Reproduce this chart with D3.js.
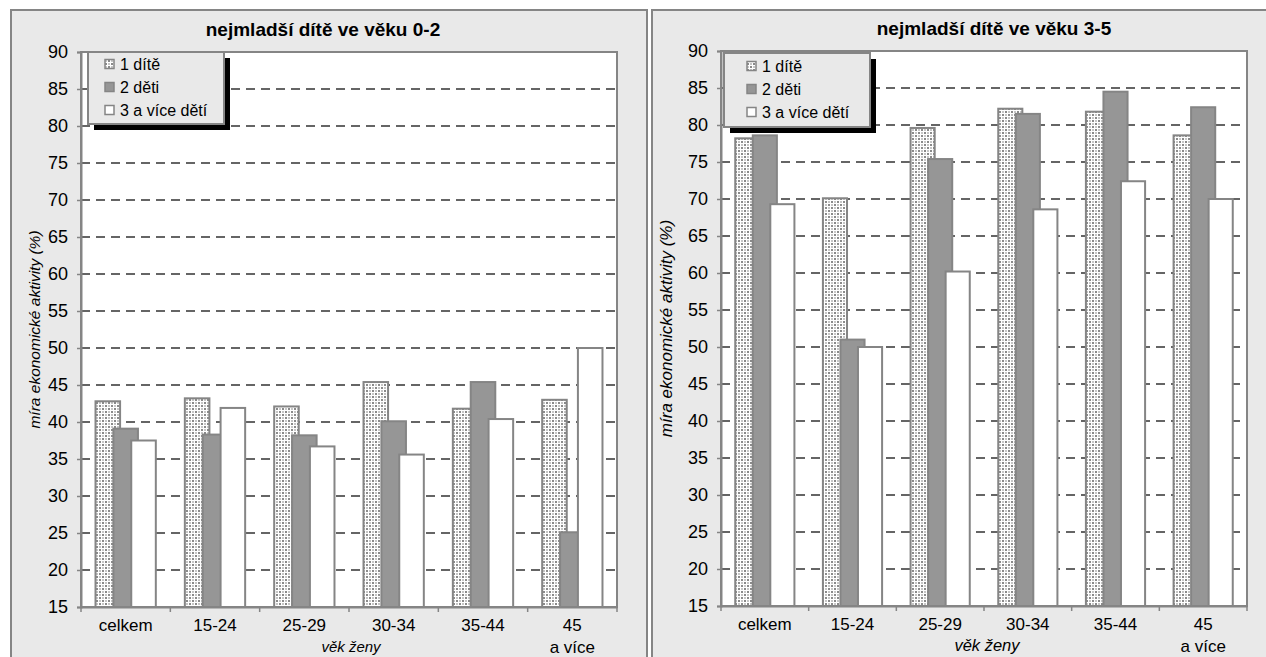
<!DOCTYPE html>
<html><head><meta charset="utf-8">
<script src="https://cdn.jsdelivr.net/npm/d3@7"></script>
<style>
body{margin:0;background:#fff;}
svg{display:block;}
text{font-family:"Liberation Sans",Arial,Helvetica,sans-serif;fill:#000;}
</style>
</head><body>
<svg id="chart" width="1266" height="657"></svg>
<script>
// ---- data ----
const categories = ["celkem", "15-24", "25-29", "30-34", "35-44", "45 a více"];
const categoryLines = [["celkem"], ["15-24"], ["25-29"], ["30-34"], ["35-44"], ["45", "a více"]];
const seriesNames = ["1 dítě", "2 děti", "3 a více dětí"];
const yTicks = [15, 20, 25, 30, 35, 40, 45, 50, 55, 60, 65, 70, 75, 80, 85, 90];

// nejmladší dítě ve věku 0-2
const age02_1child = [42.8, 43.2, 42.1, 45.4, 41.8, 43.0];
const age02_2children = [39.1, 38.3, 38.2, 40.1, 45.4, 25.1];
const age02_3plus = [37.5, 41.9, 36.7, 35.6, 40.4, 50.0];

// nejmladší dítě ve věku 3-5
const age35_1child = [78.2, 70.1, 79.6, 82.2, 81.8, 78.6];
const age35_2children = [78.6, 51.0, 75.4, 81.5, 84.5, 82.4];
const age35_3plus = [69.3, 50.0, 60.2, 68.6, 72.4, 70.0];

const titles = ["nejmladší dítě ve věku 0-2", "nejmladší dítě ve věku 3-5"];
const yTitle = "míra ekonomické aktivity (%)";
const xTitle = "věk ženy";

// ---- drawing ----
const svg = d3.select("#chart");
const PANEL_BG = "#e9e9e9";
const GRAY = "#858585";

const defs = svg.append("defs");
const pat = defs.append("pattern").attr("id", "dots")
  .attr("patternUnits", "userSpaceOnUse").attr("width", 6).attr("height", 6);
pat.append("rect").attr("width", 6).attr("height", 6).attr("fill", "#ffffff");
[[0, 0, "#8a8a8a"], [3, 3, "#8a8a8a"], [3, 0, "#c6c6c6"], [0, 3, "#c6c6c6"]].forEach(([px, py, c]) =>
  pat.append("rect").attr("x", px).attr("y", py).attr("width", 2).attr("height", 2).attr("fill", c));

const fills = ["url(#dots)", "#969696", "#ffffff"];

const panels = [
  {
    title: titles[0], data: [age02_1child, age02_2children, age02_3plus],
    box: {x: 11, y: 10, w: 636, h: 670},
    plot: {l: 81, r: 617, t: 52, b: 607},
    titleX: 323, titleY: 36,
    yTitleX: 34, yTitleSize: 15.5, xTitleX: 351, xTitleSize: 15,
    legend: {x: 88, y: 52, w: 136, h: 72, sw: 17, tx: 32, rows: [12, 35, 58]}
  },
  {
    title: titles[1], data: [age35_1child, age35_2children, age35_3plus],
    box: {x: 652, y: 10, w: 640, h: 670},
    plot: {l: 721, r: 1247, t: 51, b: 606},
    titleX: 994, titleY: 35,
    yTitleX: 666, yTitleSize: 17, xTitleX: 987, xTitleSize: 16.5,
    legend: {x: 724, y: 53, w: 146, h: 74, sw: 23, tx: 38, rows: [13, 36, 59]}
  }
];

panels.forEach(p => {
  const g = svg.append("g");
  // panel background
  g.append("rect").attr("x", p.box.x).attr("y", p.box.y).attr("width", p.box.w).attr("height", p.box.h)
    .attr("fill", PANEL_BG).attr("stroke", GRAY).attr("stroke-width", 2);

  // title
  g.append("text").attr("x", p.titleX).attr("y", p.titleY).attr("text-anchor", "middle")
    .attr("font-size", 19).attr("font-weight", "bold").text(p.title);

  const x0 = d3.scaleBand().domain(categories).range([p.plot.l, p.plot.r]).paddingInner(0).paddingOuter(0);
  const y = d3.scaleLinear().domain([15, 90]).range([p.plot.b, p.plot.t]);
  const B = x0.bandwidth();
  const bw = B * 0.275, step = B * 0.2;
  const xs = d3.scalePoint().domain(seriesNames).range([-step, step]);

  // plot background
  g.append("rect").attr("x", p.plot.l).attr("y", p.plot.t).attr("width", p.plot.r - p.plot.l)
    .attr("height", p.plot.b - p.plot.t).attr("fill", "#fff");

  // gridlines
  g.append("g").selectAll("line").data(yTicks.filter(t => t > 15 && t < 90)).join("line")
    .attr("x1", p.plot.l).attr("x2", p.plot.r)
    .attr("y1", d => y(d)).attr("y2", d => y(d))
    .attr("stroke", "#333").attr("stroke-width", 1.3).attr("stroke-dasharray", "9,6");

  // bars
  seriesNames.forEach((s, si) => {
    g.append("g").selectAll("rect").data(categories.map((c, i) => ({c, v: p.data[si][i]}))).join("rect")
      .attr("x", d => x0(d.c) + B / 2 + xs(s) - bw / 2)
      .attr("y", d => y(d.v))
      .attr("width", bw)
      .attr("height", d => y(15) - y(d.v))
      .attr("fill", fills[si]).attr("stroke", GRAY).attr("stroke-width", 2);
  });

  // plot border
  g.append("rect").attr("x", p.plot.l).attr("y", p.plot.t).attr("width", p.plot.r - p.plot.l)
    .attr("height", p.plot.b - p.plot.t).attr("fill", "none").attr("stroke", GRAY).attr("stroke-width", 2);

  // y axis
  const yAxis = d3.axisLeft(y).tickValues(yTicks).tickSize(4).tickPadding(9).tickFormat(d3.format("d"));
  const ya = g.append("g").attr("transform", `translate(${p.plot.l},0)`).call(yAxis);
  ya.select(".domain").attr("stroke", GRAY).attr("stroke-width", 2);
  ya.selectAll(".tick line").attr("stroke", GRAY).attr("stroke-width", 1.5);
  ya.selectAll(".tick text").attr("font-size", 18).attr("font-family", "Liberation Sans, Arial, sans-serif").attr("fill", "#000");

  // x axis
  const xAxis = d3.axisBottom(x0).tickSize(0).tickFormat("");
  const xa = g.append("g").attr("transform", `translate(0,${p.plot.b})`).call(xAxis);
  xa.select(".domain").attr("stroke", GRAY).attr("stroke-width", 2);
  const bounds = categories.map(c => x0(c)).concat([p.plot.r]);
  xa.selectAll("line.bnd").data(bounds).join("line").attr("class", "bnd")
    .attr("x1", d => d).attr("x2", d => d).attr("y1", 0).attr("y2", 5)
    .attr("stroke", GRAY).attr("stroke-width", 1.5);
  categories.forEach((c, i) => {
    const t = g.append("text").attr("x", x0(c) + B / 2).attr("y", p.plot.b + 24)
      .attr("text-anchor", "middle").attr("font-size", 17);
    categoryLines[i].forEach((ln, li) => {
      t.append("tspan").attr("x", x0(c) + B / 2).attr("dy", li === 0 ? 0 : 22).text(ln);
    });
  });

  // axis titles
  g.append("text").attr("transform", `translate(${p.yTitleX},${(p.plot.t + p.plot.b) / 2}) rotate(-90)`)
    .attr("text-anchor", "middle").attr("dominant-baseline", "central")
    .attr("font-size", p.yTitleSize).attr("font-style", "italic").text(yTitle);
  g.append("text").attr("x", p.xTitleX).attr("y", p.plot.b + 45).attr("text-anchor", "middle")
    .attr("font-size", p.xTitleSize).attr("font-style", "italic").text(xTitle);

  // legend
  const L = p.legend;
  g.append("rect").attr("x", L.x + 6).attr("y", L.y + 6).attr("width", L.w).attr("height", L.h).attr("fill", "#000");
  g.append("rect").attr("x", L.x).attr("y", L.y).attr("width", L.w).attr("height", L.h)
    .attr("fill", PANEL_BG).attr("stroke", GRAY).attr("stroke-width", 2);
  seriesNames.forEach((s, si) => {
    g.append("rect").attr("x", L.x + L.sw).attr("y", L.y + L.rows[si] - 4.5).attr("width", 9).attr("height", 9)
      .attr("fill", fills[si]).attr("stroke", GRAY).attr("stroke-width", 1.5);
    g.append("text").attr("x", L.x + L.tx).attr("y", L.y + L.rows[si]).attr("dominant-baseline", "central")
      .attr("font-size", 16).text(s);
  });
});
</script>
</body></html>
